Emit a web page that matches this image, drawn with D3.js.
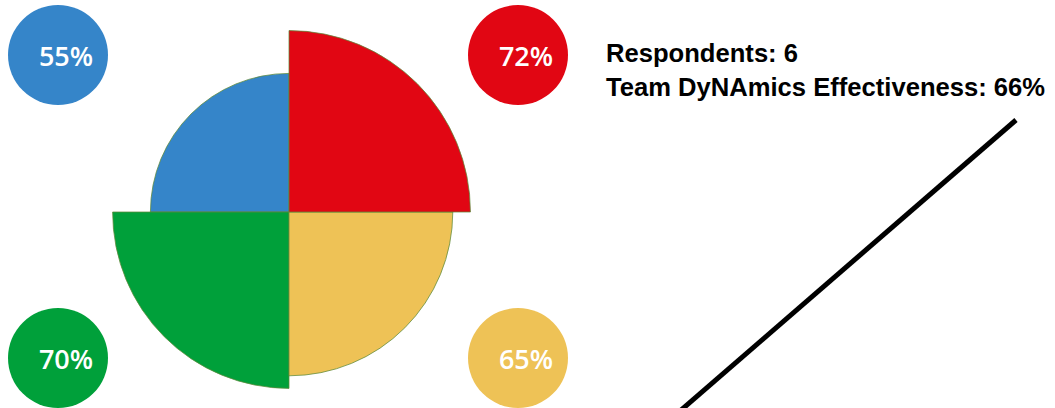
<!DOCTYPE html>
<html>
<head>
<meta charset="utf-8">
<script src="https://cdn.jsdelivr.net/npm/d3@7"></script>
<style>
  html, body { margin: 0; padding: 0; background: #fff; }
  svg { display: block; }
</style>
</head>
<body>
<svg id="chart" width="1055" height="408"></svg>
<script>
// Quadrant order: clockwise from 12 o'clock
const dimensions = ["Red", "Yellow", "Green", "Blue"];
const scores = [72, 65, 70, 55];
const colors = ["#e10613", "#eec256", "#00a03a", "#3585c9"];
const respondents = 6;
const effectiveness = 66;
const headerLines = [`Respondents: ${respondents}`, `Team DyNAmics Effectiveness: ${effectiveness}%`];

const W = 1055, H = 408;
const cx = 289, cy = 212;

const svg = d3.select("#chart");

const r = d3.scaleLinear().domain([0, 100]).range([0, 252]);

const pie = d3.pie().value(() => 1).sort(null);
const slices = pie(scores.map((s, i) => ({ name: dimensions[i], score: s, color: colors[i] })));

const arc = d3.arc()
  .innerRadius(0)
  .outerRadius(d => r(d.data.score));

// draw order so the red quarter sits above its neighbours
const drawOrder = [3, 2, 1, 0];
svg.append("g")
  .attr("transform", `translate(${cx},${cy})`)
  .selectAll("path")
  .data(drawOrder.map(i => slices[i]))
  .join("path")
  .attr("d", arc)
  .attr("fill", d => d.data.color)
  .attr("stroke", "#5d8a3a")
  .attr("stroke-opacity", 0.75)
  .attr("stroke-width", 1);

// score badges, one per quadrant corner
const badgeX = d3.scalePoint().domain(["left", "right"]).range([58, 518]);
const badgeY = d3.scalePoint().domain(["top", "bottom"]).range([55, 358]);
const corner = [["right", "top"], ["right", "bottom"], ["left", "bottom"], ["left", "top"]];

const badges = svg.append("g")
  .selectAll("g")
  .data(slices)
  .join("g")
  .attr("transform", (d, i) => `translate(${badgeX(corner[i][0])},${badgeY(corner[i][1])})`);

badges.append("circle")
  .attr("r", 50)
  .attr("fill", d => d.data.color);

badges.append("text")
  .attr("x", 8)
  .attr("y", 11)
  .attr("text-anchor", "middle")
  .attr("fill", "#fff")
  .attr("font-family", "'Open Sans', sans-serif")
  .attr("font-weight", 600)
  .attr("font-size", 27)
  .text(d => `${d.data.score}%`);

// header text
svg.append("g")
  .selectAll("text")
  .data(headerLines)
  .join("text")
  .attr("x", 606)
  .attr("y", (d, i) => 62 + i * 34)
  .attr("font-family", "'Liberation Sans', Arial, sans-serif")
  .attr("font-weight", "bold")
  .attr("font-size", 25.6)
  .attr("fill", "#000")
  .text(d => d);

// diagonal stroke on the right
const stroke = [[1016, 120], [680, 411]];
svg.append("path")
  .attr("d", d3.line()(stroke))
  .attr("stroke", "#000")
  .attr("stroke-width", 5)
  .attr("fill", "none");
</script>
</body>
</html>
